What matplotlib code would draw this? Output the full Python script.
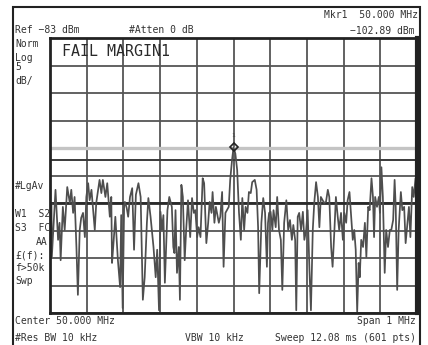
import numpy as np
import matplotlib
matplotlib.use("Agg")
import matplotlib.pyplot as plt
from matplotlib.patches import Rectangle
from matplotlib import font_manager

# ---------------- instrument settings ----------------
center_mhz = 50.0
span_mhz = 1.0
ref_dbm = -83.0
db_per_div = 5.0
n_div = 10

# ---------------- trace ----------------
freq_mhz = [
    49.500, 49.504, 49.505, 49.515, 49.522, 49.526, 49.529, 49.535, 49.540, 49.547,
    49.554, 49.558, 49.563, 49.567, 49.572, 49.576, 49.581, 49.585, 49.590, 49.595,
    49.599, 49.604, 49.608, 49.613, 49.622, 49.626, 49.635, 49.640, 49.644, 49.651,
    49.656, 49.663, 49.667, 49.669, 49.673, 49.678, 49.685, 49.691, 49.694, 49.698,
    49.702, 49.704, 49.709, 49.713, 49.718, 49.724, 49.729, 49.734, 49.741, 49.747,
    49.753, 49.758, 49.764, 49.768, 49.774, 49.782, 49.788, 49.792, 49.797, 49.801,
    49.805, 49.809, 49.813, 49.820, 49.825, 49.832, 49.836, 49.839, 49.842, 49.846,
    49.851, 49.854, 49.858, 49.862, 49.867, 49.871, 49.876, 49.882, 49.887, 49.892,
    49.896, 49.901, 49.905, 49.910, 49.916, 49.920, 49.926, 49.931, 49.935, 49.940,
    49.943, 49.948, 49.952, 49.956, 49.960, 49.964, 49.969, 49.973, 49.978, 49.982,
    49.987, 49.991, 49.996, 50.000, 50.005, 50.010, 50.015, 50.020, 50.024, 50.029,
    50.033, 50.038, 50.042, 50.047, 50.051, 50.058, 50.063, 50.067, 50.070, 50.076,
    50.081, 50.086, 50.091, 50.094, 50.097, 50.101, 50.106, 50.109, 50.115, 50.119,
    50.124, 50.129, 50.133, 50.138, 50.144, 50.149, 50.154, 50.159, 50.163, 50.168,
    50.171, 50.175, 50.179, 50.184, 50.189, 50.193, 50.198, 50.202, 50.207, 50.211,
    50.216, 50.220, 50.225, 50.230, 50.234, 50.238, 50.243, 50.247, 50.252, 50.257,
    50.261, 50.266, 50.270, 50.275, 50.279, 50.284, 50.288, 50.293, 50.298, 50.302,
    50.307, 50.311, 50.316, 50.320, 50.325, 50.329, 50.333, 50.337, 50.341, 50.344,
    50.348, 50.353, 50.358, 50.362, 50.367, 50.371, 50.376, 50.380, 50.383, 50.386,
    50.391, 50.396, 50.399, 50.403, 50.407, 50.412, 50.416, 50.421, 50.426, 50.430,
    50.435, 50.439, 50.442, 50.446, 50.450, 50.456, 50.460, 50.465, 50.469, 50.474,
    50.478, 50.482, 50.487, 50.491, 50.496, 50.500,
]
level_dbm = [
    -114.3, -113.0, -122.8, -110.6, -119.7, -116.6, -123.4, -113.7, -117.9, -110.1,
    -113.0, -110.6, -114.8, -111.9, -121.0, -129.7, -117.9, -115.7, -114.8, -119.2,
    -111.9, -109.4, -112.5, -110.6, -117.9, -113.0, -108.8, -111.2, -108.8, -111.9,
    -109.4, -115.5, -111.9, -123.9, -120.3, -115.5, -123.4, -128.3, -115.2, -132.1,
    -113.4, -112.8, -113.9, -115.5, -111.9, -110.3, -121.5, -111.5, -109.4, -111.9,
    -130.6, -126.5, -116.6, -112.1, -115.5, -121.0, -126.5, -121.5, -132.5, -114.6,
    -117.9, -115.2, -127.5, -114.3, -111.9, -113.7, -121.0, -122.1, -114.3, -125.7,
    -121.0, -130.6, -109.7, -111.9, -123.4, -117.9, -112.5, -119.2, -112.1, -114.8,
    -114.3, -119.2, -117.4, -119.2, -108.5, -109.4, -120.3, -116.6, -112.8, -114.8,
    -111.0, -116.6, -113.7, -115.2, -116.6, -115.5, -111.0, -124.6, -114.8, -114.3,
    -113.7, -108.8, -105.2, -102.9, -104.0, -107.0, -114.8, -119.7, -112.1, -117.9,
    -113.7, -114.8, -111.0, -111.2, -109.2, -108.8, -110.6, -117.4, -129.4, -116.6,
    -112.1, -114.8, -124.6, -116.6, -114.8, -114.6, -117.9, -114.3, -117.4, -111.9,
    -117.9, -119.7, -128.8, -116.6, -112.5, -117.9, -116.1, -119.7, -117.0, -119.7,
    -132.5, -115.5, -114.8, -117.9, -114.6, -119.7, -117.9, -114.3, -125.2, -132.5,
    -117.9, -113.0, -109.2, -111.9, -117.4, -111.9, -112.5, -113.0, -112.8, -110.6,
    -111.9, -121.0, -124.6, -117.9, -111.9, -115.5, -117.9, -114.8, -119.7, -114.8,
    -116.6, -112.5, -111.0, -114.8, -119.7, -117.9, -121.5, -132.8, -123.9, -126.5,
    -119.7, -121.0, -116.6, -122.8, -113.7, -114.3, -108.5, -111.9, -119.2, -111.9,
    -113.7, -111.9, -114.8, -106.5, -111.9, -125.7, -117.9, -121.0, -117.9, -117.9,
    -116.1, -108.8, -113.7, -128.8, -117.9, -111.0, -114.3, -113.7, -120.3, -116.6,
    -113.7, -119.2, -110.1, -111.9, -108.5, -111.9,
]

mkr_freq_mhz = 50.000
mkr_level_dbm = -102.89
limit_line_dbm = -103.0
margin_line_dbm = -105.2
display_line_dbm = -113.0

# ---------------- annotation texts ----------------
txt_ref = "Ref −83 dBm"
txt_atten = "#Atten 0 dB"
txt_mkr1 = "Mkr1  50.000 MHz"
txt_mkr2 = "−102.89 dBm"
left_labels = [("Norm", 44), ("Log", 58), ("5", 67), ("dB/", 81),
               ("#LgAv", 186), ("W1  S2", 214), ("S3  FC", 228),
               ("£(f):", 255), ("f>50k", 268), ("Swp", 281)]
txt_aa = "AA"
txt_fail = "FAIL MARGIN1"
txt_center = "Center 50.000 MHz"
txt_rbw = "#Res BW 10 kHz"
txt_vbw = "VBW 10 kHz"
txt_span = "Span 1 MHz"
txt_sweep = "Sweep 12.08 ms (601 pts)"

# ---------------- figure ----------------
W, H = 428, 345
fig = plt.figure(figsize=(W / 100, H / 100), dpi=100)
fig.patch.set_facecolor("white")


def fx(px):
    return px / W


def fy(py):
    return 1 - py / H


ax = fig.add_axes([fx(50), fy(313), fx(417) - fx(50), fy(38) - fy(313)])
ax.set_xlim(center_mhz - span_mhz / 2, center_mhz + span_mhz / 2)
ax.set_ylim(ref_dbm - n_div * db_per_div, ref_dbm)
ax.set_xticks(np.linspace(center_mhz - span_mhz / 2, center_mhz + span_mhz / 2, n_div + 1))
ax.set_yticks(np.linspace(ref_dbm - n_div * db_per_div, ref_dbm, n_div + 1))
ax.tick_params(length=0, labelleft=False, labelbottom=False)
ax.set_axisbelow(True)
ax.grid(True, color="#555555", lw=1.3)
for s in ax.spines.values():
    s.set_linewidth(2.0)
    s.set_color("#222222")
ax.spines["right"].set_linewidth(3.0)

ax.axhline(limit_line_dbm, color="#c4c4c4", lw=2.4, zorder=1.2)
ax.axhline(margin_line_dbm, color="#3a3a3a", lw=1.4, zorder=1.3)
ax.axhline(display_line_dbm, color="#2a2a2a", lw=2.0, zorder=1.3)

ax.plot(freq_mhz, level_dbm, color="#4e4e4e", lw=1.25, zorder=2)
ax.plot([mkr_freq_mhz], [mkr_level_dbm], marker="D", ms=4.5, mfc="none",
        mec="#222222", mew=1.2, zorder=3)
ax.annotate("1", (mkr_freq_mhz, mkr_level_dbm), xytext=(0, 7),
            textcoords="offset points", ha="center", va="bottom",
            fontsize=4.5, color="#444444", family="DejaVu Sans Mono")

# outer frame of the screen
fig.add_artist(Rectangle((fx(13), fy(352)), fx(420) - fx(13), fy(7) - fy(352),
                         transform=fig.transFigure, fill=False, lw=1.5,
                         ec="#222222"))

mono = "DejaVu Sans Mono"
fs = 7.0
tc = "#333333"


def t(x, y, s, ha="left", size=fs, family=mono):
    fig.text(fx(x), fy(y), s, ha=ha, va="center", fontsize=size,
             family=family, color=tc)


t(15, 30, txt_ref)
t(129, 30, txt_atten)
t(418, 15, txt_mkr1, ha="right")
t(415, 31, txt_mkr2, ha="right")
for s, y in left_labels:
    t(15, y, s)
t(48, 242, txt_aa, ha="right")
t(15, 321, txt_center)
t(15, 338, txt_rbw)
t(185, 338, txt_vbw)
t(416, 321, txt_span, ha="right")
t(416, 338, txt_sweep, ha="right")

# big FAIL text
try:
    font_manager.findfont(font_manager.FontProperties(family="Liberation Sans Narrow"),
                          fallback_to_default=False)
    fail_family, fail_size = "Liberation Sans Narrow", 13.0
except Exception:
    fail_family, fail_size = mono, 10.8
fig.text(fx(62), fy(52), txt_fail, ha="left", va="center", fontsize=fail_size,
         family=fail_family, color="#2a2a2a")

fig.savefig("out.png", dpi=100, facecolor="white")
